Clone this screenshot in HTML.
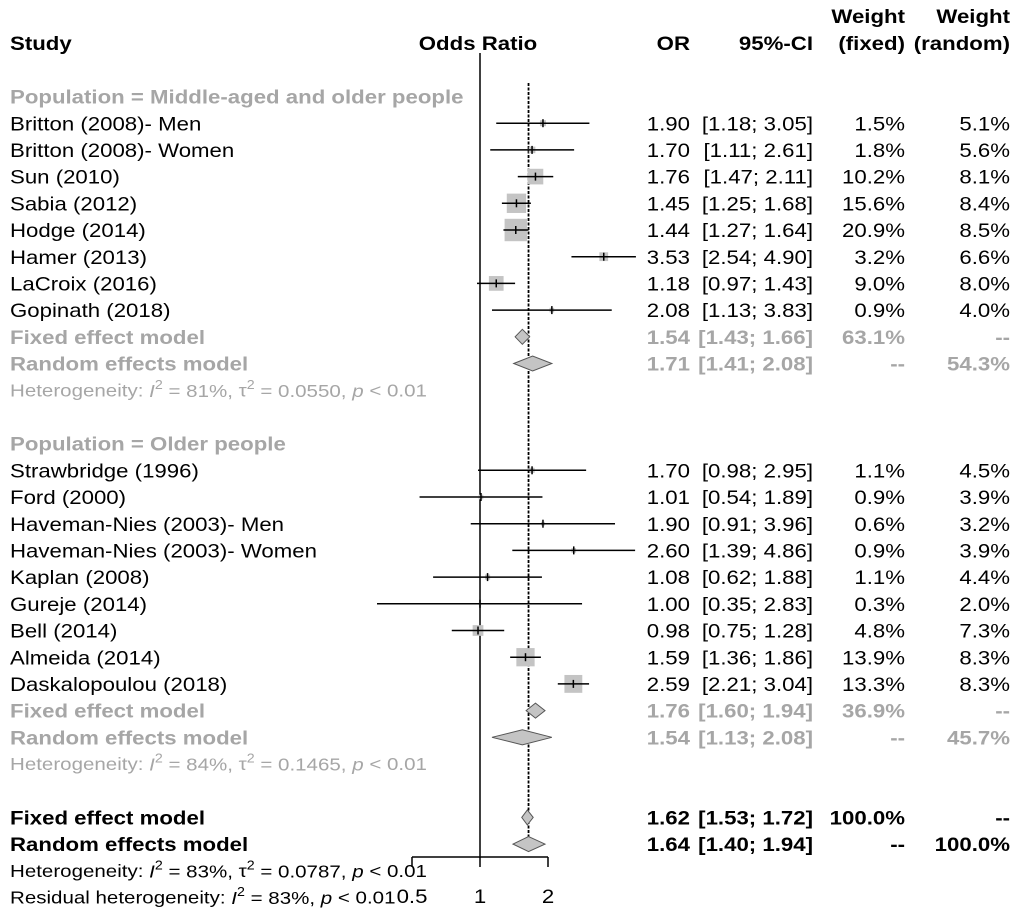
<!DOCTYPE html>
<html><head><meta charset="utf-8"><style>
html,body{margin:0;padding:0;background:#fff}
svg{display:block;font-family:"Liberation Sans",Arial,sans-serif}
</style></head><body>
<svg id="plot" width="1020" height="921" viewBox="0 0 1020 921" xmlns="http://www.w3.org/2000/svg"></svg>
<script>
// ---- data ----
const studies1 = ["Britton (2008)- Men","Britton (2008)- Women","Sun (2010)","Sabia (2012)","Hodge (2014)","Hamer (2013)","LaCroix (2016)","Gopinath (2018)"];
const or1 = [1.90,1.70,1.76,1.45,1.44,3.53,1.18,2.08];
const lo1 = [1.18,1.11,1.47,1.25,1.27,2.54,0.97,1.13];
const hi1 = [3.05,2.61,2.11,1.68,1.64,4.90,1.43,3.83];
const wf1 = [1.5,1.8,10.2,15.6,20.9,3.2,9.0,0.9];
const wr1 = [5.1,5.6,8.1,8.4,8.5,6.6,8.0,4.0];
const studies2 = ["Strawbridge (1996)","Ford (2000)","Haveman-Nies (2003)- Men","Haveman-Nies (2003)- Women","Kaplan (2008)","Gureje (2014)","Bell (2014)","Almeida (2014)","Daskalopoulou (2018)"];
const or2 = [1.70,1.01,1.90,2.60,1.08,1.00,0.98,1.59,2.59];
const lo2 = [0.98,0.54,0.91,1.39,0.62,0.35,0.75,1.36,2.21];
const hi2 = [2.95,1.89,3.96,4.86,1.88,2.83,1.28,1.86,3.04];
const wf2 = [1.1,0.9,0.6,0.9,1.1,0.3,4.8,13.9,13.3];
const wr2 = [4.5,3.9,3.2,3.9,4.4,2.0,7.3,8.3,8.3];
// summaries: [est, lo, hi, wfixed, wrandom]
const fixed1 = [1.54,1.43,1.66,"63.1%","--"];
const random1 = [1.71,1.41,2.08,"--","54.3%"];
const fixed2 = [1.76,1.60,1.94,"36.9%","--"];
const random2 = [1.54,1.13,2.08,"--","45.7%"];
const fixedAll = [1.62,1.53,1.72,"100.0%","--"];
const randomAll = [1.64,1.40,1.94,"--","100.0%"];
const xTicks = [0.5,1,2];
const tickLabels = ["0.5","1","2"];

// ---- scales ----
const NS="http://www.w3.org/2000/svg";
const svg=document.getElementById('plot');
const X0=480, UNIT=68, SX=1.14;
function xs(v){return X0+UNIT*Math.log2(v);}
function ry(k){return 96.5+26.7*k;}
function f2(v){return v.toFixed(2);}
function mk(tag,attrs,parent){const e=document.createElementNS(NS,tag);for(const k in attrs)e.setAttribute(k,attrs[k]);(parent||svg).appendChild(e);return e;}
function txt(s,x,y,o){o=o||{};const e=mk('text',{x:0,y:0,transform:`translate(${x},${y+1}) scale(${SX},1)`,'font-size':o.size||19.5,'fill':o.fill||'#000','font-weight':o.bold?'bold':'normal','text-anchor':o.anchor||'start','dominant-baseline':'central'});e.textContent=s;return e;}
const GRAY='#a6a6a6';

// header
let t;
t=txt("Study",10,43,{bold:1});
t=txt("Odds Ratio",478,43,{bold:1,anchor:'middle'});
t=txt("OR",690,43,{bold:1,anchor:'end'});
t=txt("95%-CI",813,43,{bold:1,anchor:'end'});
t=txt("Weight",905,16,{bold:1,anchor:'end'});
t=txt("(fixed)",905,43,{bold:1,anchor:'end'});
t=txt("Weight",1010,16,{bold:1,anchor:'end'});
t=txt("(random)",1010,43,{bold:1,anchor:'end'});

// reference lines
let l=mk('line',{x1:xs(1),x2:xs(1),y1:53,y2:858,stroke:'#000','stroke-width':1.5});


l=mk('line',{x1:xs(randomAll[0]),x2:xs(randomAll[0]),y1:83,y2:850,stroke:'#000','stroke-width':1.8,'stroke-dasharray':'3,1.5'});



// axis
l=mk('line',{x1:xs(xTicks[0]),x2:xs(xTicks[xTicks.length-1]),y1:857,y2:857,stroke:'#000','stroke-width':1.5});


xTicks.forEach((v,i)=>{
  const tk=mk('line',{x1:xs(v),x2:xs(v),y1:857,y2:867,stroke:'#000','stroke-width':1.5});
  
  
  const tl=txt(tickLabels[i],xs(v),896,{anchor:'middle'});
  
  
});

function studyRow(k,name,o,lo,hi,wf,wr){
  const y=ry(k);
  const g=mk('g',{});
  
  
  const s=4.9*Math.sqrt(wf);
  mk('rect',{x:xs(o)-s/2,y:y-s/2,width:s,height:s,fill:'#c4c4c4'},g);
  mk('line',{x1:xs(lo),x2:xs(hi),y1:y,y2:y,stroke:'#000','stroke-width':1.5},g);
  mk('line',{x1:xs(o),x2:xs(o),y1:y-4,y2:y+4,stroke:'#000','stroke-width':1.5},g);
  const a=[[name,10,'start'],[f2(o),690,'end'],["["+f2(lo)+"; "+f2(hi)+"]",813,'end'],[wf.toFixed(1)+"%",905,'end'],[wr.toFixed(1)+"%",1010,'end']];
  a.forEach(z=>{const e=txt(z[0],z[1],y,{anchor:z[2]});g.appendChild(e);});
}
function summaryRow(k,name,d,color){
  const y=ry(k);
  const g=mk('g',{});
  
  
  const h=7.5;
  mk('polygon',{points:`${xs(d[1])},${y} ${xs(d[0])},${y-h} ${xs(d[2])},${y} ${xs(d[0])},${y+h}`,fill:'#c4c4c4',stroke:'#555','stroke-width':1},g);
  const a=[[name,10,'start'],[f2(d[0]),690,'end'],["["+f2(d[1])+"; "+f2(d[2])+"]",813,'end'],[d[3],905,'end'],[d[4],1010,'end']];
  a.forEach(z=>{const e=txt(z[0],z[1],y,{anchor:z[2],bold:1,fill:color});g.appendChild(e);});
}
function label(k,s,color,name){const e=txt(s,10,ry(k),{fill:color,bold:1});return e;}
function het(k,pre,I2,tau,color,name){
  const e=mk('text',{x:0,y:0,transform:`translate(10,${ry(k)+1}) scale(${SX},1)`,'font-size':18,fill:color,'dominant-baseline':'central'});
  
  
  e.innerHTML=pre+'<tspan font-style="italic">I</tspan><tspan dy="-7" font-size="12.5">2</tspan><tspan dy="7"> = '+I2+'%, </tspan>'+(tau?'τ<tspan dy="-7" font-size="12.5">2</tspan><tspan dy="7"> = '+tau+', </tspan>':'')+'<tspan font-style="italic">p</tspan> &lt; 0.01';
}

label(0,"Population = Middle-aged and older people",GRAY,'group-label-middle-aged');
studies1.forEach((s,i)=>studyRow(1+i,s,or1[i],lo1[i],hi1[i],wf1[i],wr1[i]));
summaryRow(9,"Fixed effect model",fixed1,GRAY);
summaryRow(10,"Random effects model",random1,GRAY);
het(11,"Heterogeneity: ","81","0.0550",GRAY,'heterogeneity-group1');
label(13,"Population = Older people",GRAY,'group-label-older');
studies2.forEach((s,i)=>studyRow(14+i,s,or2[i],lo2[i],hi2[i],wf2[i],wr2[i]));
summaryRow(23,"Fixed effect model",fixed2,GRAY);
summaryRow(24,"Random effects model",random2,GRAY);
het(25,"Heterogeneity: ","84","0.1465",GRAY,'heterogeneity-group2');
summaryRow(27,"Fixed effect model",fixedAll,'#000');
summaryRow(28,"Random effects model",randomAll,'#000');
het(29,"Heterogeneity: ","83","0.0787",'#000','heterogeneity-overall');
het(30,"Residual heterogeneity: ","83",null,'#000','residual-heterogeneity');
</script>
</body></html>
